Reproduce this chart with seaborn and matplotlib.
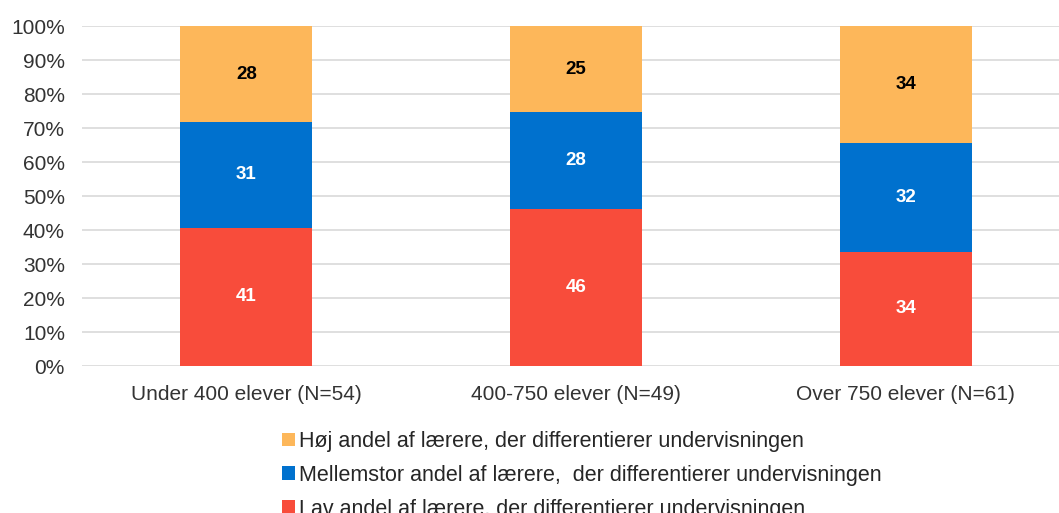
import matplotlib.pyplot as plt
import numpy as np
import pandas as pd
import seaborn as sns

categories = ["Under 400 elever (N=54)", "400-750 elever (N=49)", "Over 750 elever (N=61)"]
lav = [40.7, 46.2, 33.6]
mellem = [31.1, 28.4, 32.0]
hoej = [28.2, 25.4, 34.4]

series_names = [
    "Lav andel af lærere, der differentierer undervisningen",
    "Mellemstor andel af lærere,  der differentierer undervisningen",
    "Høj andel af lærere, der differentierer undervisningen",
]
colors = ["#F84C3B", "#0071CE", "#FDB75A"]
text_colors = ["white", "white", "black"]

sns.set_theme(style="white")
plt.rcParams["font.family"] = ["Liberation Sans", "DejaVu Sans"]

values = np.array([lav, mellem, hoej])
tops = values.cumsum(axis=0)
bottoms = tops - values

f = plt.figure(figsize=(10.59, 5.13), dpi=100)
ax = f.add_axes([0.077, 0.2865, 0.923, 0.6625])

# draw cumulative bars from the top down so they stack
for i in [2, 1, 0]:
    df = pd.DataFrame({"cat": categories, "val": tops[i]})
    sns.barplot(data=df, x="cat", y="val", color=colors[i], width=0.4,
                saturation=1, ax=ax, label=series_names[i], zorder=3,
                linewidth=0, edgecolor="none")

for i in range(3):
    for j in range(len(categories)):
        ax.text(j, bottoms[i, j] + values[i, j] / 2, f"{values[i, j]:.0f}",
                ha="center", va="center", fontsize=13.5, fontweight="bold",
                color=text_colors[i], zorder=4)

ax.set_ylim(0, 100)
ax.set_xlim(-0.5, 2.465)
ax.set_yticks(range(0, 101, 10))
ax.set_yticklabels([f"{t}%" for t in range(0, 101, 10)])
ax.yaxis.grid(True, color="#D9D9D9", linewidth=1.2, zorder=0)
ax.set_axisbelow(True)
ax.set_xlabel("")
ax.set_ylabel("")
ax.tick_params(axis="both", labelsize=15, colors="#333333", length=0)
ax.tick_params(axis="x", pad=14)
ax.tick_params(axis="y", pad=12)
sns.despine(ax=ax, left=True, bottom=True, top=True, right=True)

handles, labels = ax.get_legend_handles_labels()
if ax.get_legend():
    ax.get_legend().remove()
f.legend(handles, labels, loc="upper left",
         bbox_to_anchor=(0.266, 1 - 431 / 513), bbox_transform=f.transFigure,
         frameon=False, fontsize=15.5, handlelength=0.6, handleheight=0.6,
         handletextpad=0.2, labelspacing=0.6, borderaxespad=0,
         borderpad=0)

f.savefig("out.png", dpi=100)
plt.close()
